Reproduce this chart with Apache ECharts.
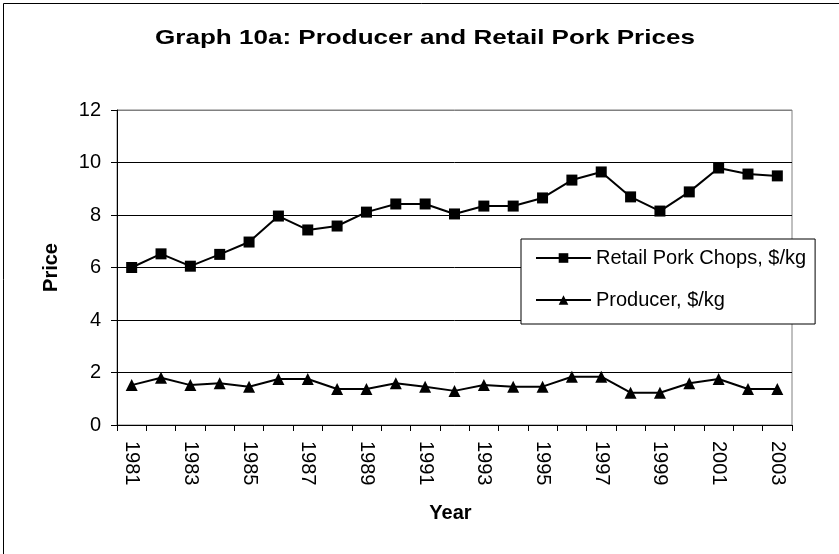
<!DOCTYPE html>
<html>
<head>
<meta charset="utf-8">
<script src="https://cdn.jsdelivr.net/npm/echarts@6/dist/echarts.min.js"></script>
<style>html,body{margin:0;padding:0;background:#fff;}#c{width:839px;height:554px;}</style>
</head>
<body>
<div id="c"></div>
<script>
const years = ['1981','1982','1983','1984','1985','1986','1987','1988','1989','1990','1991','1992','1993','1994','1995','1996','1997','1998','1999','2000','2001','2002','2003'];
const retail = [6.0,6.52,6.05,6.5,6.97,7.96,7.43,7.58,8.11,8.42,8.42,8.04,8.34,8.34,8.65,9.33,9.64,8.69,8.15,8.88,9.79,9.56,9.49];
const producer = [1.52,1.80,1.52,1.59,1.46,1.75,1.75,1.37,1.37,1.59,1.46,1.30,1.52,1.46,1.46,1.84,1.84,1.23,1.23,1.59,1.75,1.37,1.37];
const retailName = 'Retail Pork Chops, $/kg';
const producerName = 'Producer, $/kg';
const titleText = 'Graph 10a: Producer and Retail Pork Prices';

const FONT = '"Liberation Sans", Arial, sans-serif';
const chart = echarts.init(document.getElementById('c'), null, {renderer: 'canvas'});
chart.setOption({
  animation: false,
  backgroundColor: '#fff',
  textStyle: {fontFamily: FONT},
  graphic: [
    {
      type: 'rect', shape: {x: 3.5, y: 3.5, width: 1000, height: 1000},
      style: {fill: 'none', stroke: '#000', lineWidth: 1}, z: 100, silent: true
    },
    {
      type: 'text', x: 425, y: 38, scaleX: 1.24, silent: true,
      style: {
        text: titleText, fontFamily: FONT, fontSize: 21, fontWeight: 'bold',
        fill: '#000', align: 'center', verticalAlign: 'middle'
      }
    }
  ],
  legend: {
    orient: 'vertical', left: 521, top: 239,
    data: [retailName, producerName],
    backgroundColor: '#fff',
    borderColor: '#000', borderWidth: 1, borderRadius: 0,
    padding: [9, 9, 14, 14],
    itemWidth: 55, itemHeight: 12, itemGap: 22,
    textStyle: {fontFamily: FONT, fontSize: 20, color: '#000'}
  },
  grid: {
    left: 117, right: 47, top: 110, bottom: 129,
    show: true, borderColor: '#808080', borderWidth: 1, backgroundColor: 'transparent'
  },
  xAxis: {
    type: 'category', data: years, boundaryGap: true,
    name: 'Year', nameLocation: 'middle', nameGap: 78,
    nameTextStyle: {fontFamily: FONT, fontSize: 20, fontWeight: 'bold', color: '#000', padding: [0, 8, 0, 0]},
    axisLine: {show: true, lineStyle: {color: '#000', width: 1}},
    axisTick: {show: true, interval: 0, length: 6, lineStyle: {color: '#000'}},
    axisLabel: {interval: 1, rotate: -90, margin: 16, fontFamily: FONT, fontSize: 20, color: '#000'},
    splitLine: {show: false}
  },
  yAxis: {
    type: 'value', min: 0, max: 12, interval: 2,
    name: 'Price', nameLocation: 'middle', nameGap: 56, nameRotate: 90,
    nameTextStyle: {fontFamily: FONT, fontSize: 20, fontWeight: 'bold', color: '#000'},
    axisLine: {show: true, lineStyle: {color: '#000', width: 1}},
    axisTick: {show: true, length: 6, lineStyle: {color: '#000'}},
    axisLabel: {margin: 16, fontFamily: FONT, fontSize: 20, color: '#000'},
    splitLine: {show: true, lineStyle: {color: ['#000','#000','#000','#000','#000','#000','#808080'], width: 1}}
  },
  series: [
    {
      name: retailName, type: 'line', data: retail,
      symbol: 'rect', symbolSize: 11,
      lineStyle: {color: '#000', width: 2},
      itemStyle: {color: '#000'}
    },
    {
      name: producerName, type: 'line', data: producer,
      symbol: 'triangle', symbolSize: 12,
      lineStyle: {color: '#000', width: 2},
      itemStyle: {color: '#000'}
    }
  ]
});
</script>
</body>
</html>
